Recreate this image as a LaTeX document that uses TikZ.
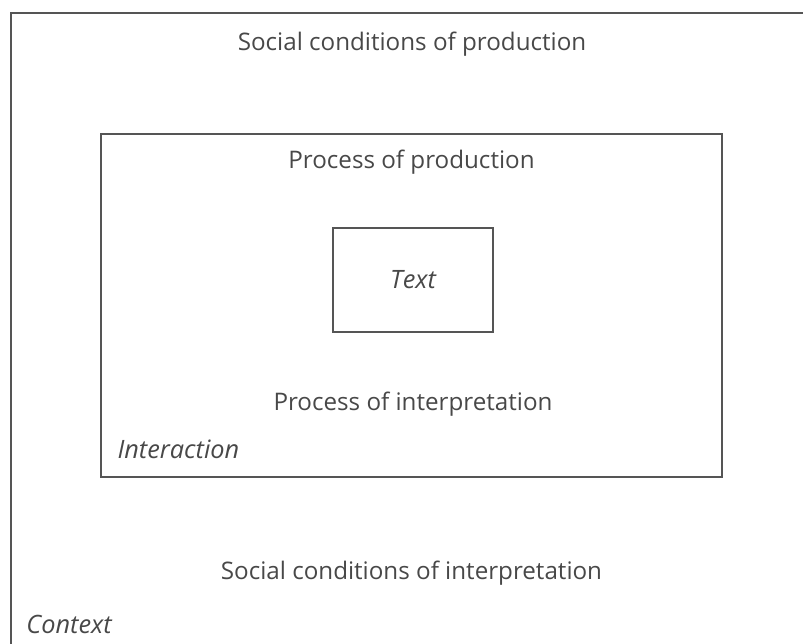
\documentclass[tikz,border=0pt]{standalone}
\usepackage{fontspec}
\setmainfont{Open Sans}
\usepackage{xcolor}
\usepackage{tikz}
\usetikzlibrary{positioning}
\definecolor{linegray}{HTML}{555555}
\definecolor{textgray}{HTML}{484848}

\begin{document}
\begin{tikzpicture}[
    x=0.025cm, y=-0.025cm,   % one unit is one pixel of the page
    frame/.style = {draw=linegray, line width=1pt, inner sep=0pt},
    lbl/.style = {text=textgray, inner sep=0pt, font=\fontsize{17.2}{20}\selectfont},
    note/.style = {lbl, font=\fontsize{18}{21}\selectfont\itshape}
  ]
    \useasboundingbox (0,0) rectangle (803,644);
    \clip (0,0) rectangle (803,644);

    % the three frames
    \node[frame, minimum width=20.05cm, minimum height=17cm] (outer) at (412,353) {};   % runs off the page on the right and below
    \node[frame, minimum width=15.525cm, minimum height=8.575cm] (inner) at (411.5,305.5) {};
    \node[frame, minimum width=4cm, minimum height=2.6cm] (textbox) at (413,280) {};

    \node[note] (txt) at (textbox.center) {Text};
    \node[lbl] (socprod) [below=0.79cm of outer.north, anchor=center] {Social conditions of production};
    \node[lbl] (procprod) [below=0.71cm of inner.north, anchor=center] {Process of production};
    \node[lbl] (procint) [below=1.79cm of textbox.south, anchor=center] {Process of interpretation};
    \node[note] (interact) [above right=0.7cm and 0.425cm of inner.south west, anchor=west] {Interaction};  % lower left corner of the inner frame
    \node[lbl] (socint) [below=2.375cm of inner.south, anchor=center] {Social conditions of interpretation};
    \node[note] (context) [below right=15.3cm and 0.4cm of outer.north west, anchor=west] {Context};
  \end{tikzpicture}
\end{document}
